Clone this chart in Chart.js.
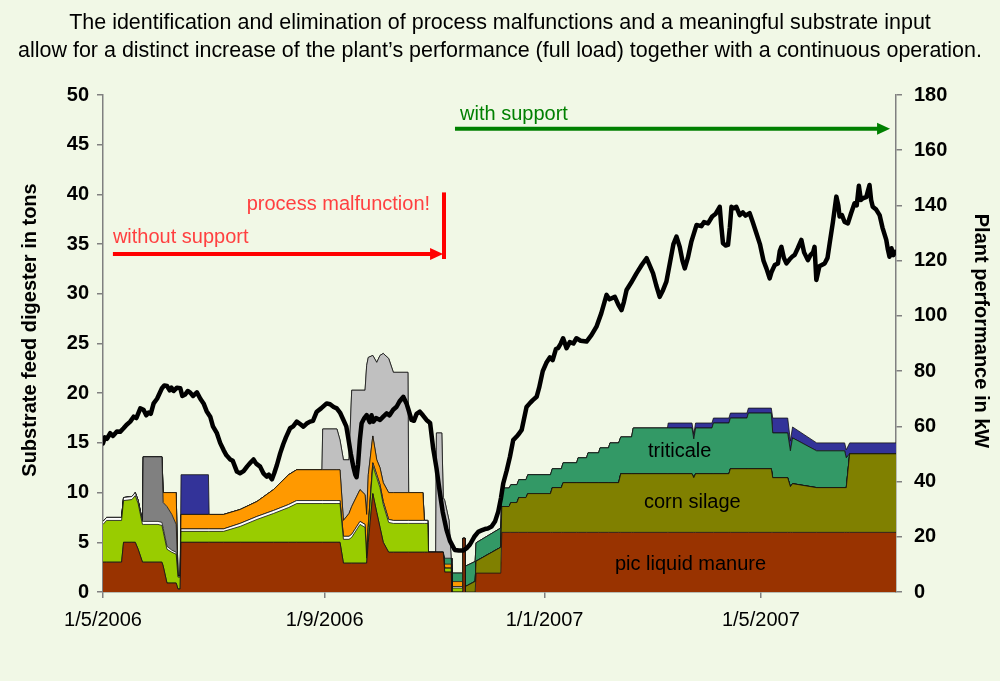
<!DOCTYPE html>
<html><head><meta charset="utf-8">
<script src="https://cdn.jsdelivr.net/npm/chart.js@4.4.0/dist/chart.umd.min.js"></script>
<style>html,body{margin:0;padding:0;background:#f1f8e6;}canvas{display:block}</style>
</head><body>
<canvas id="c" width="1000" height="681"></canvas>
<script>
// x values: days since 1/5/2006
const tickDays = [0, 123, 245, 365];
const tickLabels = ['1/5/2006', '1/9/2006', '1/1/2007', '1/5/2007'];
const titleLines = [
  'The identification and elimination of process malfunctions and a meaningful substrate input',
  'allow for a distinct increase of the plant\u2019s performance (full load) together with a continuous operation.'
];
const leftAxisTitle = 'Substrate feed digester in tons';
const rightAxisTitle = 'Plant performance in kW';

const days = [0,2,10.3,11.4,16,17.9,19.5,21.9,22.3,30.5,
 32.7,33.4,35.5,38.2,40.6,41.6,42.8,43.3,58.5,58.9,
 66.9,76.1,85.4,94.6,103,107.5,121.5,121.9,129.8,131.5,
 133.4,136.5,138,142.6,145.4,146.3,147.2,149.7,151.9,153.7,
 155.5,158.5,161.1,169.2,169.6,177.5,178.3,180.2,180.6,184.6,
 185,188,188.8,189.6,192,193.2,193.6,199.4,199.7,200.9,
 201.1,206.5,207,220.7,221.3,225.3,226.3,229.7,230.7,234.7,
 235.7,248.3,249.3,254.3,255.3,262.8,263.6,268.3,269.1,275,
 275.8,280.5,281.3,286.1,287.3,293.3,294.2,313.2,313.6,326.8,
 327.8,328.8,337.9,338.7,347.3,348.1,357.3,358.1,370.8,371.6,
 379.9,381.4,382.6,396,411.5,412.4,414.3,440];

// layer thicknesses in tons (stacked bottom to top)
const manure = [3,3,3,5,5,5,4.3,3,3,3,
 3,2.6,0.9,0.9,0.9,0.3,0.3,5,5,5,
 5,5,5,5,5,5,5,5,5,5,
 2.9,2.9,2.9,2.9,2.9,2.9,5,9.9,8,6.5,
 5,4,4,4,4,4,4,4,4,4,
 4,4,4,2,2,2,0,0,5.4,5.4,
 0,0,1.9,1.9,6,6,6,6,6,6,
 6,6,6,6,6,6,6,6,6,6,
 6,6,6,6,6,6,6,6,6,6,
 6,6,6,6,6,6,6,6,6,6,
 6,6,6,6,6,6,6,6];
const cornSilage = [0,0,0,0,0,0,0,0,0,0,
 0,0,0,0,0,0,0,0,0,0,
 0,0,0,0,0,0,0,0,0,0,
 0,0,0,0,0,0,0,0,0,0,
 0,0,0,0,0,0,0,0,0,0,
 0,0,0,0,0,0,0,0,0,0,
 0.55,1.07,1.2,2.6,2.6,2.6,3.0,3.0,3.5,3.5,
 3.9,3.9,4.5,4.5,5.0,5.0,5.0,5.0,5.0,5.0,
 5.0,5.0,5.0,5.0,5.9,5.9,5.9,5.9,5.9,5.9,
 5.5,5.9,5.9,5.9,5.9,6.4,6.4,6.4,6.4,5.5,
 5.5,4.6,4.9,4.5,4.5,4.5,7.9,7.9];
const greenFeed = [3.8,4.2,4.2,4.2,4.3,4.7,4.6,3.8,3.8,3.8,
 3.7,3.5,3.4,3.1,2.9,1.2,1.2,1.1,1.1,1.1,
 1.1,1.6,2.3,2.9,3.5,3.9,3.9,3.9,3.9,3.9,
 2.4,2.4,2.6,3.9,3.6,0.5,1.5,2.8,3.5,4.0,
 3.8,3.0,2.9,2.9,2.9,2.9,2.9,2.9,0,0,
 0,0,0,0.4,0.4,0.4,0.4,0.4,0,0,
 0,0,0,0,0,0,0,0,0,0,
 0,0,0,0,0,0,0,0,0,0,
 0,0,0,0,0,0,0,0,0,0,
 0,0,0,0,0,0,0,0,0,0,
 0,0,0,0,0,0,0,0];
const whiteFeed = [0.3,0.3,0.3,0.3,0.3,0.3,0.3,0.3,0.3,0.3,
 0.3,0.3,0.3,0.2,0.2,0.1,0.1,0.25,0.25,0.25,
 0.25,0.3,0.3,0.3,0.3,0.3,0.3,0.3,0.3,0.3,
 0.3,0.3,0.3,0.3,0.3,0.2,0.3,0.3,0.3,0.3,
 0.3,0.3,0.3,0.3,0.3,0.3,0.3,0.3,0,0,
 0,0,0,0,0,0,0.15,0.15,0,0,
 0,0,0,0,0,0,0,0,0,0,
 0,0,0,0,0,0,0,0,0,0,
 0,0,0,0,0,0,0,0,0,0,
 0,0,0,0,0,0,0,0,0,0,
 0,0,0,0,0,0,0,0];
const darkGrayFeed = [0,0,0,0,0,0,0,0,6.5,6.5,
 6.6,2.6,4.0,3.6,2.8,0,0,0,0,0,
 0,0,0,0,0,0,0,0,0,0,
 0,0,0,0,0,0,0,0,0,0,
 0,0,0,0,0,0,0,0,0,0,
 0,0,0,0,0,0,0,0,0,0,
 0,0,0,0,0,0,0,0,0,0,
 0,0,0,0,0,0,0,0,0,0,
 0,0,0,0,0,0,0,0,0,0,
 0,0,0,0,0,0,0,0,0,0,
 0,0,0,0,0,0,0,0];
const orangeFeed = [0,0,0,0,0,0,0,0,0,0,
 0,1.0,1.4,2.2,3.2,0,0,1.45,1.45,1.45,
 1.45,1.4,1.5,2.1,3.0,3.1,3.1,3.1,3.1,3.1,
 1.6,2.3,2.8,3.2,3.0,4.2,5,2.7,1.5,1.7,
 1.9,2.7,2.8,2.8,2.8,2.8,0,0,0,0,
 0,0,0,0.4,0.4,0.4,0.5,0.5,0,0,
 0,0,0,0,0,0,0,0,0,0,
 0,0,0,0,0,0,0,0,0,0,
 0,0,0,0,0,0,0,0,0,0,
 0,0,0,0,0,0,0,0,0,0,
 0,0,0,0,0,0,0,0];
const triticale = [0,0,0,0,0,0,0,0,0,0,
 0,0,0,0,0,0,0,0,0,0,
 0,0,0,0,0,0,0,0,0,0,
 0,0,0,0,0,0,0,0,0,0,
 0,0,0,0,0,0,0,0,0,0,
 0,0,0,0.6,0.6,0.6,0.85,0.85,0,0,
 2.05,2.0,1.85,1.94,1.86,1.86,1.8,1.8,1.8,1.8,
 1.9,1.9,1.9,1.9,2.0,2.0,2.5,2.5,3.0,3.0,
 3.5,3.5,4.0,4.0,3.7,3.7,4.6,4.6,4.6,4.6,
 3.9,4.6,4.6,5.1,5.1,5.1,5.1,5.6,5.6,4.5,
 4.5,3.6,4.6,3.7,3.7,3.0,0,0];
const lightGrayFeed = [0,0,0,0,0,0,0,0,0,0,
 0,0,0,0,0,0,0,0,0,0,
 0,0,0,0,0,0,0,4.1,4.1,3.0,
 6.1,5.4,11.7,10,10.5,15,11.8,8.1,9.8,11.3,
 13,13.5,12.1,12.1,0,0,0,0,0,0,
 12,12,5.5,5.8,3.8,0,0,0,0,0,
 0,0,0,0,0,0,0,0,0,0,
 0,0,0,0,0,0,0,0,0,0,
 0,0,0,0,0,0,0,0,0,0,
 0,0,0,0,0,0,0,0,0,0,
 0,0,0,0,0,0,0,0];
const blueFeed = [0,0,0,0,0,0,0,0,0,0,
 0,0,0,0,0,0,0,4.0,4.0,0,
 0,0,0,0,0,0,0,0,0,0,
 0,0,0,0,0,0,0,0,0,0,
 0,0,0,0,0,0,0,0,0,0,
 0,0,0,0,0,0,0,0,0,0,
 0,0,0,0,0,0,0,0,0,0,
 0,0,0,0,0,0,0,0,0,0,
 0,0,0,0,0,0,0,0,0.5,0.5,
 0.5,0.5,0.5,0.5,0.5,0.5,0.5,0.5,0.5,1.5,
 1.5,1.0,1.1,0.8,0.8,0.8,1.1,1.1];

// plant performance: [day, kW]
const powerReadings = [[0,53.8],[1,56],[2.2,55.5],[4,57.5],[5.5,56.5],[7.7,58.1],[9.5,58],[11.4,59.3],[13,60.5],[15.1,61.7],
 [17,63.5],[18.5,63],[20.7,66.5],[22.5,66],[24,64],[25.3,65],[26.5,64.5],[28.1,68.3],[30,70],[32.7,73.8],
 [34,74.8],[35.5,74.6],[37,73],[38,74],[39.2,72.8],[41,74],[42.9,73.8],[44,71],[45.6,71.5],[47,72.8],
 [48.4,72.2],[50,71],[52.1,72.3],[54,70],[55.8,68.3],[57.5,65.5],[59.5,63.5],[61,60],[63.2,57.5],[65,54],
 [66.9,51.4],[68.5,49.5],[70.6,48],[72,47.5],[74.3,43.6],[76,43],[78,43.8],[80,45.5],[82,47],[83.5,48],
 [85,46.5],[87.2,45.4],[89,43],[90.9,41.8],[92,42.5],[93.7,40.8],[95,43],[96.5,46],[98.3,50.2],[100,53.5],
 [101.5,56],[103.8,59.3],[105.5,60],[107.5,61.7],[109,61],[111.2,59.9],[113,61],[114.9,61.7],[116.5,62],[118.6,65.3],
 [121,66.5],[124.1,68.3],[126,68],[128,67],[129.7,66.5],[131.5,65],[133.4,62.3],[135,60],[136.1,55.7],[137.5,50],
 [138.9,45.4],[140,42.5],[140.7,41.6],[141.5,46],[142.5,55],[143.5,61.1],[145,63],[146.3,64.1],[148,61.5],[149,64],
 [150,61.7],[151.5,63],[153.7,62.3],[155.5,63.5],[157.4,64.7],[159,64],[161,66],[162.9,67.1],[164.5,69],[166.6,70.7],
 [168.4,68.3],[169.5,66],[171.2,62.3],[172.5,62],[174,64.5],[175.8,65.3],[177.5,64],[179.5,62.3],[181.5,61.2],[183.2,52],
 [185,45],[186.9,36],[188.5,29],[190.6,22.5],[192.5,18.5],[195.2,15.2],[197.5,15],[199.8,15],[202,16],[203.6,17.2],
 [206,20],[208.2,21.8],[210,22.3],[211.9,22.8],[213.5,23],[215.6,23.7],[217.5,25.5],[219.3,29.1],[220.8,34],[222.1,39.4],
 [224,44],[225.8,49],[227.6,55],[229.5,56.3],[231,57.5],[232.3,58.7],[235,67],[237,68.5],[238.5,69.5],[240.6,70.7],
 [242,74],[244,80],[246,83],[248,85],[249.5,84],[251.3,88],[252.5,88.3],[254,90],[255.3,91.9],[257.2,88.3],
 [259,90.5],[261,90],[262.7,91.9],[265,91],[268.3,90.7],[271,93],[273.8,96.1],[276.5,101],[279.4,107.6],[281,106],
 [284,106.9],[286,104],[287.7,102.1],[289,105],[290.5,109.4],[293,112],[296,115.4],[299,118.5],[301.6,120.9],[303.5,118],
 [305.2,115.4],[307,111],[308.9,106.9],[310.5,109],[312.6,112.4],[314.5,119],[316.5,126],[318.2,128.7],[320,125],[321.5,120],
 [322.8,117.2],[324.5,121],[326.5,127],[329.3,132.9],[332,132.5],[333.5,134],[335.7,133.5],[338,136],[340,137],[342.2,139.5],
 [343,133],[344,126.3],[345.5,125.5],[346.8,125.7],[347.8,132],[348.7,139.5],[350,139],[351.4,139.5],[353.3,136.5],[355,137.5],
 [356.5,136.3],[358.8,137.2],[360.5,134],[362.5,130],[364.5,126],[366.5,120],[368.1,117.2],[369.9,113.6],[371,116],[372.7,118.4],
 [374.5,119],[375.5,123.5],[376.4,125],[377.8,121],[379.2,119],[381,120.5],[382.5,121.5],[383.8,122.1],[385.5,124.5],[387.5,127.5],
 [389,123],[391.1,120.2],[392.5,122],[394,123],[394.8,125],[395.8,113],[397.5,118],[400.4,119],[402,121],[403.2,126.3],
 [405,134],[406.9,143.2],[408,140],[408.7,136],[410,136.5],[411.5,134],[413.3,133.5],[415,137],[417,140.8],[418.2,140],
 [419.4,147.1],[420.5,142],[421.6,142.6],[423.5,143],[425.3,147.4],[426.2,142],[427.1,139.5],[429,138.5],[430.9,136.5],[432.5,132],
 [434.6,127.5],[435.5,124],[436.4,121.4],[437.5,124.5],[438.5,122],[439.5,123.2]];

const FONT = '"Liberation Sans", Arial, Helvetica, sans-serif';

const layers = [
  {label:'pic liquid manure', values: manure, color:'#993300'},
  {label:'corn silage', values: cornSilage, color:'#808000'},
  {label:'green feed', values: greenFeed, color:'#99cc00'},
  {label:'other', values: whiteFeed, color:'#ffffff'},
  {label:'dark gray feed', values: darkGrayFeed, color:'#808080'},
  {label:'orange feed', values: orangeFeed, color:'#ff9900'},
  {label:'triticale', values: triticale, color:'#339966'},
  {label:'light gray feed', values: lightGrayFeed, color:'#c0c0c0'},
  {label:'blue feed', values: blueFeed, color:'#333399'}
];

const datasets = [{
  label:'Plant performance', yAxisID:'y2',
  data: powerReadings.map(p => ({x:p[0], y:p[1]})),
  borderColor:'#000', borderWidth:4.5, pointRadius:0, fill:false, tension:0,
  borderJoinStyle:'round', borderCapStyle:'round'
}];
layers.forEach((l, i) => {
  datasets.push({
    label:l.label, yAxisID:'y',
    data: days.map((d, k) => ({x:d, y:l.values[k]})),
    backgroundColor:l.color, borderColor:'rgba(20,20,20,0.8)', borderWidth:1,
    pointRadius:0, tension:0, fill: i === 0 ? 'origin' : '-1'
  });
});

// annotation anchors (day, tons)
const redArrow = {from:5.5, to:188.7, v:34.0};
const redBar = {d:189.2, v1:40.2, v2:33.5};
const greenArrow = {from:195.3, to:436.7, v:46.6};
const areaLabels = [
  {text:'triticale', d:320, v:14.1},
  {text:'corn silage', d:327, v:9.0},
  {text:'pic liquid manure', d:326, v:2.8}
];

function arrow(ctx, x1, y, x2, color) {
  ctx.save();
  ctx.strokeStyle = color; ctx.fillStyle = color; ctx.lineWidth = 4;
  ctx.beginPath(); ctx.moveTo(x1, y); ctx.lineTo(x2 - 10, y); ctx.stroke();
  ctx.beginPath(); ctx.moveTo(x2, y); ctx.lineTo(x2 - 13, y - 6); ctx.lineTo(x2 - 13, y + 6); ctx.closePath(); ctx.fill();
  ctx.restore();
}

const deco = {
  id:'deco',
  beforeDraw(chart) {
    const c = chart.ctx; c.save(); c.fillStyle = '#f1f8e6'; c.fillRect(0, 0, chart.width, chart.height); c.restore();
  },
  afterDatasetsDraw(chart) {
    const c = chart.ctx, xs = chart.scales.x, ys = chart.scales.y;
    c.save();
    c.font = '20px ' + FONT; c.fillStyle = '#000'; c.textAlign = 'center'; c.textBaseline = 'middle';
    areaLabels.forEach(a => c.fillText(a.text, xs.getPixelForValue(a.d), ys.getPixelForValue(a.v)));
    c.restore();
  },
  afterDraw(chart) {
    const c = chart.ctx, xs = chart.scales.x, ys = chart.scales.y;
    c.save();
    // title
    c.font = '100px ' + FONT;
    const fs = 100 * 964 / c.measureText(titleLines[1]).width;
    c.font = fs.toFixed(2) + 'px ' + FONT; c.fillStyle = '#000';
    c.textAlign = 'center'; c.textBaseline = 'middle';
    c.fillText(titleLines[0], 500, 23);
    c.fillText(titleLines[1], 500, 51);
    // axis titles
    c.font = 'bold 20px ' + FONT;
    c.save(); c.translate(30, 330); c.rotate(-Math.PI / 2); c.fillText(leftAxisTitle, 0, 0); c.restore();
    c.save(); c.translate(981, 331); c.rotate(Math.PI / 2); c.fillText(rightAxisTitle, 0, 0); c.restore();
    // red annotations
    const ry = ys.getPixelForValue(redArrow.v);
    arrow(c, xs.getPixelForValue(redArrow.from), ry, xs.getPixelForValue(redArrow.to), '#ff0000');
    c.strokeStyle = '#ff0000'; c.lineWidth = 4;
    const bx = xs.getPixelForValue(redBar.d);
    c.beginPath(); c.moveTo(bx, ys.getPixelForValue(redBar.v1)); c.lineTo(bx, ys.getPixelForValue(redBar.v2)); c.stroke();
    c.font = '20px ' + FONT; c.fillStyle = '#ff4040'; c.textBaseline = 'middle';
    c.textAlign = 'left';
    c.fillText('without support', xs.getPixelForValue(5.5), ys.getPixelForValue(35.7));
    c.textAlign = 'right';
    c.fillText('process malfunction!', xs.getPixelForValue(181.5), ys.getPixelForValue(39.0));
    // green annotations
    arrow(c, xs.getPixelForValue(greenArrow.from), ys.getPixelForValue(greenArrow.v), xs.getPixelForValue(greenArrow.to), '#008000');
    c.fillStyle = '#008000'; c.textAlign = 'left';
    c.fillText('with support', xs.getPixelForValue(198.1), ys.getPixelForValue(48.0));
    c.restore();
  }
};

const axisGrid = {display:true, drawOnChartArea:false, drawTicks:true, tickLength:6, color:'#808080', lineWidth:1.5};
const axisBorder = {display:true, color:'#808080', width:1.5};

new Chart(document.getElementById('c'), {
  type:'line',
  data:{datasets},
  plugins:[deco],
  options:{
    responsive:false, animation:false, devicePixelRatio:1,
    layout:{padding:{top:95, left:0, right:0, bottom:0}},
    plugins:{legend:{display:false}, tooltip:{enabled:false}, title:{display:false}},
    scales:{
      x:{
        type:'linear', min:0, max:440,
        afterBuildTicks: s => { s.ticks = tickDays.map(v => ({value:v})); },
        ticks:{callback: v => { const i = tickDays.indexOf(v); return i >= 0 ? tickLabels[i] : ''; },
          font:{family:FONT, size:20}, color:'#000', padding:10, maxRotation:0, autoSkip:false},
        grid:axisGrid, border:axisBorder,
        afterFit: s => { s.height = 89; }
      },
      y:{
        type:'linear', position:'left', stacked:true, min:0, max:50,
        ticks:{stepSize:5, font:{family:FONT, size:20, weight:'bold'}, color:'#000', padding:8},
        grid:axisGrid, border:axisBorder,
        afterFit: s => { s.width = 103; }
      },
      y2:{
        type:'linear', position:'right', min:0, max:180,
        ticks:{stepSize:20, font:{family:FONT, size:20, weight:'bold'}, color:'#000', padding:12},
        grid:axisGrid, border:axisBorder,
        afterFit: s => { s.width = 104; }
      }
    }
  }
});
</script>
</body></html>
